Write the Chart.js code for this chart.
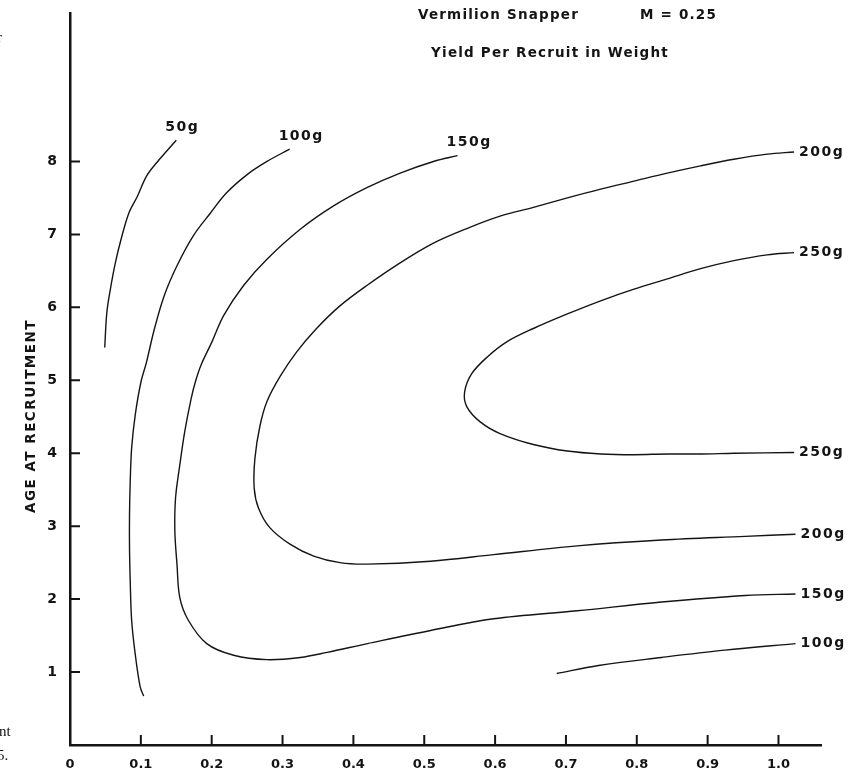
<!DOCTYPE html>
<html>
<head>
<meta charset="utf-8">
<title>Vermilion Snapper - Yield Per Recruit in Weight</title>
<script src="https://cdn.jsdelivr.net/npm/chart.js@4.4.1/dist/chart.umd.min.js"></script>
<style>
  html, body { margin: 0; padding: 0; background: #fff; }
  #chart { display: block; }
</style>
</head>
<body>
<canvas id="chart" width="855" height="768"></canvas>
<script>
// Yield-per-recruit isopleths.
// x = fishing mortality F, y = age at recruitment
const xTickValues = [0, 0.1, 0.2, 0.3, 0.4, 0.5, 0.6, 0.7, 0.8, 0.9, 1.0];
const xTickLabels = ['0', '0.1', '0.2', '0.3', '0.4', '0.5', '0.6', '0.7', '0.8', '0.9', '1.0'];
const yTickValues = [1, 2, 3, 4, 5, 6, 7, 8];
const yTickLabels = ['1', '2', '3', '4', '5', '6', '7', '8'];

const f50 = [0.150, 0.122, 0.108, 0.095, 0.083, 0.072, 0.064, 0.057, 0.052, 0.049];
const age50 = [8.29, 7.98, 7.80, 7.52, 7.29, 6.93, 6.61, 6.25, 5.93, 5.45];

const f100a = [0.310, 0.278, 0.250, 0.221, 0.198, 0.174, 0.151, 0.133, 0.119, 0.108, 0.100,
  0.092, 0.087, 0.085, 0.084, 0.084, 0.085, 0.087, 0.092, 0.099, 0.104];
const age100a = [8.17, 8.00, 7.82, 7.57, 7.29, 6.98, 6.57, 6.16, 5.70, 5.25, 4.97,
  4.52, 4.07, 3.61, 3.16, 2.70, 2.25, 1.71, 1.25, 0.80, 0.67];

const f100b = [0.687, 0.746, 0.835, 0.924, 1.024];
const age100b = [0.98, 1.09, 1.20, 1.30, 1.39];

const f150 = [0.547, 0.513, 0.466, 0.419, 0.372, 0.325, 0.278, 0.245, 0.217, 0.200, 0.185,
  0.177, 0.171, 0.162, 0.155, 0.149, 0.148, 0.151, 0.155, 0.167, 0.193, 0.231, 0.278,
  0.325, 0.363, 0.420, 0.509, 0.598, 0.716, 0.835, 0.953, 1.024];
const age150 = [8.08, 8.00, 7.84, 7.64, 7.39, 7.07, 6.66, 6.30, 5.89, 5.52, 5.21,
  4.98, 4.75, 4.30, 3.84, 3.39, 2.93, 2.48, 2.02, 1.71, 1.39, 1.23, 1.17,
  1.20, 1.27, 1.39, 1.57, 1.73, 1.84, 1.96, 2.05, 2.07];

const f200 = [1.022, 0.984, 0.937, 0.890, 0.843, 0.796, 0.749, 0.702, 0.654, 0.607, 0.560,
  0.513, 0.466, 0.419, 0.381, 0.348, 0.320, 0.297, 0.278, 0.268, 0.261, 0.260, 0.266,
  0.282, 0.311, 0.344, 0.381, 0.420, 0.509, 0.598, 0.716, 0.835, 0.953, 1.024];
const age200 = [8.13, 8.10, 8.03, 7.94, 7.84, 7.73, 7.62, 7.50, 7.37, 7.25, 7.08,
  6.88, 6.61, 6.30, 6.02, 5.71, 5.39, 5.06, 4.71, 4.37, 3.93, 3.52, 3.25,
  2.98, 2.75, 2.59, 2.50, 2.48, 2.52, 2.61, 2.73, 2.81, 2.86, 2.89];

const f250 = [1.022, 0.984, 0.937, 0.890, 0.843, 0.796, 0.749, 0.702, 0.654, 0.617, 0.589,
  0.567, 0.557, 0.560, 0.579, 0.607, 0.654, 0.702, 0.749, 0.796, 0.843, 0.890, 0.937, 1.022];
const age250 = [6.75, 6.72, 6.64, 6.53, 6.39, 6.25, 6.09, 5.91, 5.71, 5.53, 5.32,
  5.09, 4.84, 4.64, 4.43, 4.27, 4.12, 4.03, 3.99, 3.98, 3.99, 3.99, 4.00, 4.01];

const INK = '#141414';
const BOLD = '"DejaVu Sans", sans-serif';

function contour(label, fs, ages) {
    return {
        label: label,
        data: fs.map((f, i) => ({ x: f, y: ages[i] })),
        showLine: true,
        borderColor: INK,
        borderWidth: 1.4,
        pointRadius: 0,
        tension: 0.35,
        fill: false
    };
}

// inward ticks, isopleth labels and the free text of the figure
const decorations = {
    id: 'decorations',
    afterDraw(chart) {
        const ctx = chart.ctx;
        const x = chart.scales.x;
        const y = chart.scales.y;
        ctx.save();
        ctx.strokeStyle = INK;
        ctx.lineWidth = 2;
        ctx.beginPath();
        xTickValues.forEach(v => {
            if (v === 0) return;
            const px = x.getPixelForValue(v);
            ctx.moveTo(px, y.bottom);
            ctx.lineTo(px, y.bottom - 10);
        });
        yTickValues.forEach(v => {
            const py = y.getPixelForValue(v);
            ctx.moveTo(x.left, py);
            ctx.lineTo(x.left + 10, py);
        });
        ctx.stroke();

        ctx.fillStyle = INK;
        ctx.textAlign = 'left';
        ctx.textBaseline = 'middle';
        ctx.font = 'bold 14px ' + BOLD;
        ctx.letterSpacing = '1.5px';
        chart.data.datasets.forEach(ds => {
            const ends = [ds.data[0], ds.data[ds.data.length - 1]];
            ends.forEach(p => {
                const px = x.getPixelForValue(p.x);
                const py = y.getPixelForValue(p.y);
                if (p.x >= 1) {
                    ctx.fillText(ds.label, px + 5, py);
                } else if (p.y >= 8) {
                    ctx.fillText(ds.label, px - 11, py - 13);
                }
            });
        });

        ctx.font = 'bold 13.5px ' + BOLD;
        ctx.letterSpacing = '1.2px';
        ctx.fillText('Vermilion Snapper', 418, 15);
        ctx.textAlign = 'right';
        ctx.fillText('M = 0.25', 717, 15);
        ctx.textAlign = 'center';
        ctx.fillText('Yield Per Recruit in Weight', 550, 53);

        ctx.save();
        ctx.translate(31, 416);
        ctx.rotate(-Math.PI / 2);
        ctx.font = 'bold 13.5px ' + BOLD;
        ctx.letterSpacing = '1.5px';
        ctx.fillText('AGE AT RECRUITMENT', 0, 0);
        ctx.restore();

        // bits of the neighbouring page caught in the scan
        ctx.letterSpacing = '0px';
        ctx.textAlign = 'left';
        ctx.font = '15px "Liberation Serif", serif';
        ctx.fillText('r', -3, 38);
        ctx.fillText('nt', -1, 732);
        ctx.fillText('5.', -3, 756);
        ctx.restore();
    }
};

new Chart(document.getElementById('chart'), {
    type: 'scatter',
    data: {
        datasets: [
            contour('50g', f50, age50),
            contour('100g', f100a, age100a),
            contour('100g', f100b, age100b),
            contour('150g', f150, age150),
            contour('200g', f200, age200),
            contour('250g', f250, age250)
        ]
    },
    options: {
        responsive: false,
        animation: false,
        layout: { padding: { top: 10, right: 34, left: 0, bottom: 0 } },
        plugins: {
            legend: { display: false },
            tooltip: { enabled: false }
        },
        scales: {
            x: {
                type: 'linear',
                min: 0,
                max: 1.06,
                grid: { display: false },
                border: { display: true, color: INK, width: 2.5 },
                afterBuildTicks: scale => { scale.ticks = xTickValues.map(v => ({ value: v })); },
                afterFit: scale => { scale.height = 23; },
                ticks: {
                    autoSkip: false,
                    maxRotation: 0,
                    padding: 4,
                    color: INK,
                    font: { family: BOLD, weight: 'bold', size: 13 },
                    callback: (v, i) => xTickLabels[i]
                }
            },
            y: {
                type: 'linear',
                min: 0,
                max: 10.03,
                grid: { display: false },
                border: { display: true, color: INK, width: 2.5 },
                afterBuildTicks: scale => { scale.ticks = yTickValues.map(v => ({ value: v })); },
                afterFit: scale => { scale.width = 70; },
                ticks: {
                    autoSkip: false,
                    padding: 5,
                    color: INK,
                    font: { family: BOLD, weight: 'bold', size: 14 },
                    callback: (v, i) => yTickLabels[i]
                }
            }
        }
    },
    plugins: [decorations]
});
</script>
</body>
</html>
